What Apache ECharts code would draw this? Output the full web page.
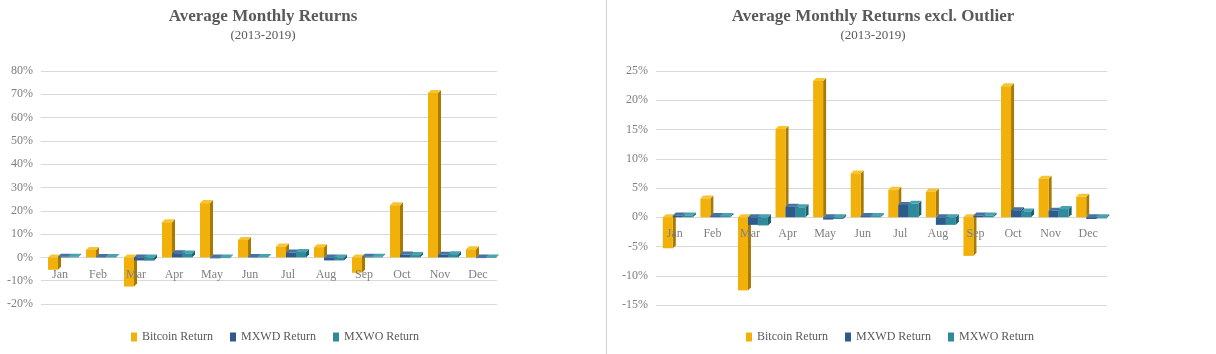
<!DOCTYPE html>
<html>
<head>
<meta charset="utf-8">
<script src="https://cdn.jsdelivr.net/npm/echarts@6/dist/echarts.min.js"></script>
<style>
  html, body { margin: 0; padding: 0; background: #fff; }
  #wrap { position: relative; width: 1216px; height: 354px; }
  #left { position: absolute; left: 0; top: 0; width: 604px; height: 354px; }
  #right { position: absolute; left: 608px; top: 0; width: 608px; height: 354px; }
  #divider { position: absolute; left: 606px; top: 0; width: 0; height: 354px; border-left: 1px solid #d0d0d0; }
</style>
</head>
<body>
<div id="wrap">
  <div id="left"></div>
  <div id="divider"></div>
  <div id="right"></div>
</div>
<script>
// 数据
const months = ['Jan', 'Feb', 'Mar', 'Apr', 'May', 'Jun', 'Jul', 'Aug', 'Sep', 'Oct', 'Nov', 'Dec'];
const seriesNames = ['Bitcoin Return', 'MXWD Return', 'MXWO Return'];
const bitcoinAll = [-5.3, 3.2, -12.5, 15.1, 23.3, 7.5, 4.7, 4.4, -6.6, 22.4, 70.6, 3.5];
const bitcoinExcl = [-5.3, 3.2, -12.5, 15.1, 23.3, 7.5, 4.7, 4.4, -6.6, 22.4, 6.6, 3.5];
const mxwd = [0.3, 0.2, -1.3, 1.8, -0.4, 0.2, 2.1, -1.3, 0.3, 1.2, 1.1, -0.3];
const mxwo = [0.3, 0.2, -1.4, 1.7, -0.3, 0.2, 2.3, -1.3, 0.3, 1.0, 1.4, -0.2];

// 颜色: front, side, top
const palette = [
  ['#f2b10a', '#a87a02', '#f7c534'],
  ['#2f5a8c', '#1d3c60', '#4673a6'],
  ['#2f8a9b', '#1d5f6b', '#47a2b2']
];

const FONT = '"Liberation Serif", "Times New Roman", serif';

// 伪3D柱子
function bar3d(seriesIdx) {
  return function (params, api) {
    const cat = api.value(0);
    const val = api.value(1);
    const base = api.coord([cat, 0]);
    const end = api.coord([cat, val]);
    const w = 10, dx = 3, dy = -3;
    const x0 = base[0] - 12 + seriesIdx * w;
    const x1 = x0 + w;
    const yUp = Math.min(base[1], end[1]);
    const yLo = Math.max(base[1], end[1]);
    const c = palette[seriesIdx];
    return {
      type: 'group',
      children: [
        {
          type: 'polygon',
          shape: {points: [[x1, yUp], [x1 + dx, yUp + dy], [x1 + dx, yLo + dy], [x1, yLo]]},
          style: {fill: c[1]}
        },
        {
          type: 'polygon',
          shape: {points: [[x0, yUp], [x0 + dx, yUp + dy], [x1 + dx, yUp + dy], [x1, yUp]]},
          style: {fill: c[2]}
        },
        {
          type: 'rect',
          shape: {x: x0, y: yUp, width: w, height: Math.max(yLo - yUp, 0.5)},
          style: {fill: c[0]}
        }
      ]
    };
  };
}

function buildOption(cfg) {
  const {titleText, titleX, gridLeft, gridWidth, gridHeight, yMin, yMax, yInterval, legendLeft, labelMargin, bitcoin} = cfg;
  const values = [bitcoin, mxwd, mxwo];
  return {
    animation: false,
    title: [
      {
        text: titleText,
        left: titleX,
        textAlign: 'center',
        top: 3,
        textStyle: {fontFamily: FONT, fontSize: 17, fontWeight: 'bold', color: '#595959'}
      },
      {
        text: '(2013-2019)',
        left: titleX,
        textAlign: 'center',
        top: 24,
        textStyle: {fontFamily: FONT, fontSize: 13, fontWeight: 'normal', color: '#595959'}
      }
    ],
    legend: {
      left: legendLeft,
      top: 326,
      icon: 'rect',
      itemWidth: 6,
      itemHeight: 9,
      itemGap: 17,
      textStyle: {fontFamily: FONT, fontSize: 12, color: '#595959'},
      data: seriesNames
    },
    grid: {left: gridLeft, width: gridWidth, top: 71, height: gridHeight},
    xAxis: {
      type: 'category',
      data: months,
      axisLine: {show: false},
      axisTick: {show: false},
      axisLabel: {margin: labelMargin, fontFamily: FONT, fontSize: 12, color: '#7f7f7f'},
      z: 10
    },
    yAxis: {
      type: 'value',
      min: yMin,
      max: yMax,
      interval: yInterval,
      axisLine: {show: false},
      axisTick: {show: false},
      axisLabel: {margin: 8, fontFamily: FONT, fontSize: 12, color: '#7f7f7f', formatter: '{value}%'},
      splitLine: {lineStyle: {color: '#d9d9d9'}}
    },
    series: seriesNames.map((name, i) => ({
      name: name,
      type: 'custom',
      renderItem: bar3d(i),
      itemStyle: {color: palette[i][0]},
      data: values[i].map((v, j) => [j, v]),
      z: 2 + i
    }))
  };
}

let leftChart = echarts.init(document.getElementById('left'));
leftChart.setOption(buildOption({
  titleText: 'Average Monthly Returns',
  titleX: 258,
  gridLeft: 41,
  gridWidth: 456,
  gridHeight: 233,
  yMin: -20,
  yMax: 80,
  yInterval: 10,
  legendLeft: 126,
  labelMargin: -35,
  bitcoin: bitcoinAll
}));

let rightChart = echarts.init(document.getElementById('right'));
rightChart.setOption(buildOption({
  titleText: 'Average Monthly Returns excl. Outlier',
  titleX: 260,
  gridLeft: 48,
  gridWidth: 451,
  gridHeight: 234,
  yMin: -15,
  yMax: 25,
  yInterval: 5,
  legendLeft: 133,
  labelMargin: -77,
  bitcoin: bitcoinExcl
}));
</script>
</body>
</html>
